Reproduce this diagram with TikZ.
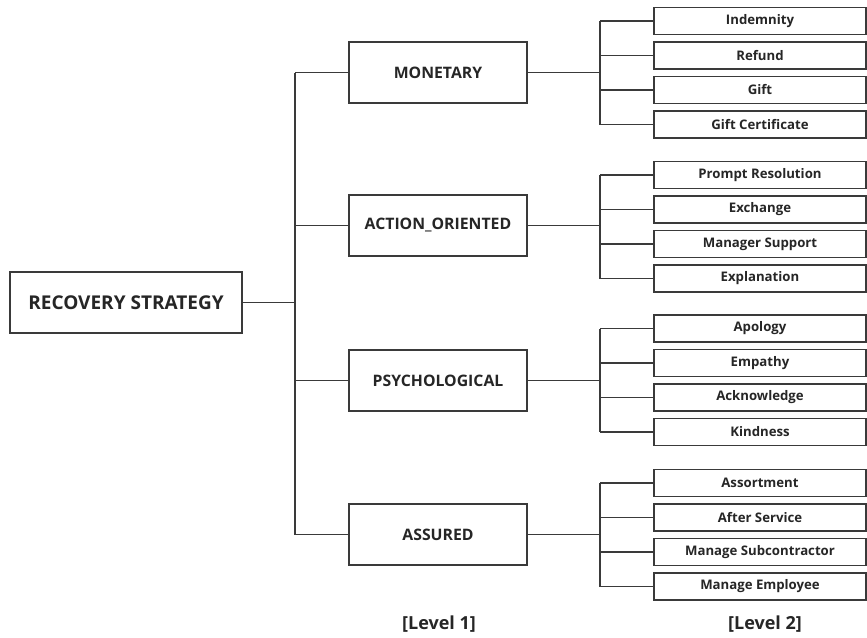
\documentclass[tikz,border=0pt]{standalone}
\usepackage{fontspec}
\setmainfont{Open Sans}
\definecolor{ln}{HTML}{3A3A3A}
\definecolor{txt}{HTML}{262626}
\tikzset{
  box/.style={draw=ln, line width=1.3pt, fill=white, text=txt, inner sep=0pt},
  rootbox/.style={box, minimum width=232pt, minimum height=61pt, font=\fontsize{19}{22}\selectfont\bfseries},
  lonebox/.style={box, minimum width=178pt, minimum height=61pt, font=\fontsize{15.8}{18}\selectfont\bfseries},
  ltwobox/.style={box, minimum width=212pt, minimum height=27pt, font=\fontsize{13.2}{15}\selectfont\bfseries},
  conn/.style={draw=ln, line width=1.2pt},
  lvl/.style={text=txt, font=\fontsize{18}{22}\selectfont\bfseries}
}
\begin{document}
\begin{tikzpicture}[x=1pt, y=-1pt]
\useasboundingbox (0,0) rectangle (867,637);
% root
\node[rootbox] (root) at (126,302.5) {RECOVERY STRATEGY};
% level 1
\node[lonebox] (m) at (438,72.5) {MONETARY};
\node[lonebox] (a) at (438,225.5) {ACTION\_ORIENTED};
\node[lonebox] (p) at (438,380.5) {PSYCHOLOGICAL};
\node[lonebox] (s) at (438,534.5) {ASSURED};
% trunk
\coordinate (t0) at (295,302.5);
\coordinate (tm) at (295,72.5);
\coordinate (ta) at (295,225.5);
\coordinate (tp) at (295,380.5);
\coordinate (ts) at (295,534.5);
\draw[conn] (root.east) -- (t0);
\draw[conn] (tm) -- (ts);
\foreach \n in {m,a,p,s} { \draw[conn] (t\n) -- (\n.west); }
% level 2
\foreach \g/\ya/\yb/\yc/\yd/\ta/\tb/\tc/\td in {
  m/21/55.5/90/124.5/Indemnity/Refund/Gift/Gift Certificate,
  a/175/209.5/244/278.5/Prompt Resolution/Exchange/Manager Support/Explanation,
  p/328.5/363/397.5/432/Apology/Empathy/Acknowledge/Kindness,
  s/483/517.5/552/586.5/Assortment/After Service/Manage Subcontractor/Manage Employee} {
  \node[ltwobox] (\g1) at (760,\ya) {\ta};
  \node[ltwobox] (\g2) at (760,\yb) {\tb};
  \node[ltwobox] (\g3) at (760,\yc) {\tc};
  \node[ltwobox] (\g4) at (760,\yd) {\td};
  \coordinate (\g b) at (600,0 |- \g.east);
  \coordinate (\g b1) at (600,\ya);
  \coordinate (\g b2) at (600,\yb);
  \coordinate (\g b3) at (600,\yc);
  \coordinate (\g b4) at (600,\yd);
  \draw[conn] (\g.east) -- (\g b);
  \draw[conn] (\g b1) -- (\g b4);
  \foreach \k in {1,2,3,4} { \draw[conn] (\g b\k) -- (\g\k.west); }
}
% level labels
\node[lvl] (l1) at (439,624) {[Level 1]};
\node[lvl] (l2) at (765,624) {[Level 2]};
\end{tikzpicture}
\end{document}
